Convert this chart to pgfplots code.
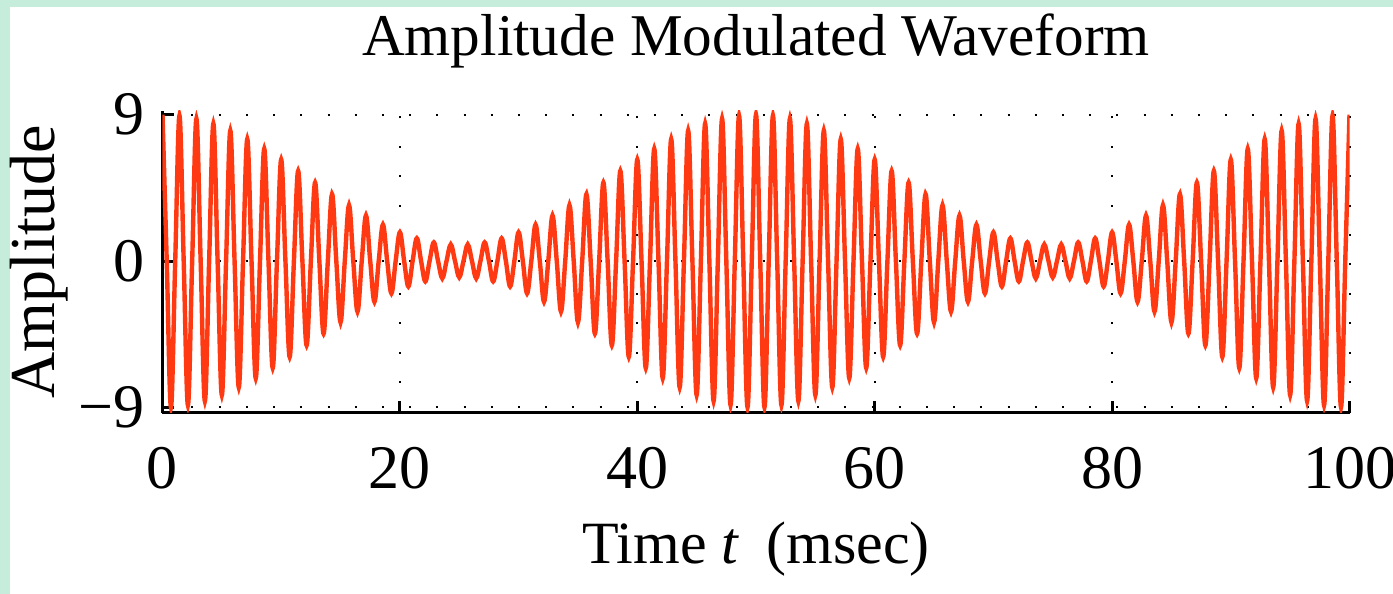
\documentclass[border=0pt]{standalone}
\usepackage{fontspec}
\setmainfont{Liberation Serif}
\usepackage{pgfplots}
\pgfplotsset{compat=1.18}
\definecolor{wavered}{RGB}{255,58,18}
\definecolor{framegreen}{RGB}{198,236,219}
\begin{document}
\begin{tikzpicture}
\useasboundingbox (0,0) rectangle (696.5pt,297pt);
\fill[framegreen] (0,0) rectangle (696.5pt,297pt);
\fill[white] (5pt,0) rectangle (696.5pt,293.5pt);
\begin{axis}[
  at={(81.25pt,90.5pt)}, anchor=south west,
  scale only axis, width=593.5pt, height=151.25pt,
  xmin=0, xmax=100, ymin=-9.34, ymax=9.25,
  axis lines=left,
  axis line style={-, line width=1.5pt, black},
  xtick={0,20,40,60,80,100},
  ytick={-9,0,9}, yticklabels={−9,0,9},
  tick align=inside, major tick length=6pt,
  tick style={line width=1.5pt, black},
  minor tick num=0,
  grid=major,
  x grid style={line width=1pt, dash pattern=on 1pt off 13.7pt, dash phase=14.4pt, black},
  y grid style={line width=1pt, dash pattern=on 1pt off 12.6pt, dash phase=12.7pt, black},
  /pgf/number format/assume math mode=true,
  ticklabel style={font=\fontsize{31}{31}\selectfont, inner sep=0pt},
  xticklabel style={anchor=north, yshift=-17pt},
  yticklabel style={anchor=east, xshift=-9pt},
  every axis title shift=0pt,
  title={Amplitude Modulated Waveform},
  title style={at={(axis description cs:0.5,1.1802)}, anchor=base, inner sep=0pt, yshift=0pt, font=\fontsize{29.6}{29.6}\selectfont},
  xlabel={Time \textit{t}\hspace{0.45em}(msec)},
  xlabel style={at={(axis description cs:0.5,-0.4959)}, anchor=base, inner sep=0pt, font=\fontsize{30}{30}\selectfont},
  ylabel={Amplitude},
  ylabel style={at={(axis description cs:-0.0906,0.5)}, anchor=base, rotate=0, inner sep=0pt, font=\fontsize{32}{32}\selectfont},
]
\addplot[color=wavered, line width=2.2pt, smooth, tension=0.6] table {
x y
0 9
0.3571 0
0.7143 -8.984
1.0714 0
1.4286 8.936
1.7857 0
2.1429 -8.856
2.5 0
2.8571 8.745
3.2143 0
3.5714 -8.604
3.9286 0
4.2857 8.434
4.6429 0
5 -8.236
5.3571 0
5.7143 8.012
6.0714 0
6.4286 -7.764
6.7857 0
7.1429 7.494
7.5 0
7.8571 -7.204
8.2143 0
8.5714 6.895
8.9286 0
9.2857 -6.572
9.6429 0
10 6.236
10.3571 0
10.7143 -5.890
11.0714 0
11.4286 5.537
11.7857 0
12.1429 -5.179
12.5 0
12.8571 4.821
13.2143 0
13.5714 -4.463
13.9286 0
14.2857 4.110
14.6429 0
15 -3.764
15.3571 0
15.7143 3.428
16.0714 0
16.4286 -3.105
16.7857 0
17.1429 2.796
17.5 0
17.8571 -2.506
18.2143 0
18.5714 2.236
18.9286 0
19.2857 -1.988
19.6429 0
20 1.764
20.3571 0
20.7143 -1.566
21.0714 0
21.4286 1.396
21.7857 0
22.1429 -1.255
22.5 0
22.8571 1.144
23.2143 0
23.5714 -1.064
23.9286 0
24.2857 1.016
24.6429 0
25 -1.000
25.3571 0
25.7143 1.016
26.0714 0
26.4286 -1.064
26.7857 0
27.1429 1.144
27.5 0
27.8571 -1.255
28.2143 0
28.5714 1.396
28.9286 0
29.2857 -1.566
29.6429 0
30 1.764
30.3571 0
30.7143 -1.988
31.0714 0
31.4286 2.236
31.7857 0
32.1429 -2.506
32.5 0
32.8571 2.796
33.2143 0
33.5714 -3.105
33.9286 0
34.2857 3.428
34.6429 0
35 -3.764
35.3571 0
35.7143 4.110
36.0714 0
36.4286 -4.463
36.7857 0
37.1429 4.821
37.5 0
37.8571 -5.179
38.2143 0
38.5714 5.537
38.9286 0
39.2857 -5.890
39.6429 0
40 6.236
40.3571 0
40.7143 -6.572
41.0714 0
41.4286 6.895
41.7857 0
42.1429 -7.204
42.5 0
42.8571 7.494
43.2143 0
43.5714 -7.764
43.9286 0
44.2857 8.012
44.6429 0
45 -8.236
45.3571 0
45.7143 8.434
46.0714 0
46.4286 -8.604
46.7857 0
47.1429 8.745
47.5 0
47.8571 -8.856
48.2143 0
48.5714 8.936
48.9286 0
49.2857 -8.984
49.6429 0
50 9
50.3571 0
50.7143 -8.984
51.0714 0
51.4286 8.936
51.7857 0
52.1429 -8.856
52.5 0
52.8571 8.745
53.2143 0
53.5714 -8.604
53.9286 0
54.2857 8.434
54.6429 0
55 -8.236
55.3571 0
55.7143 8.012
56.0714 0
56.4286 -7.764
56.7857 0
57.1429 7.494
57.5 0
57.8571 -7.204
58.2143 0
58.5714 6.895
58.9286 0
59.2857 -6.572
59.6429 0
60 6.236
60.3571 0
60.7143 -5.890
61.0714 0
61.4286 5.537
61.7857 0
62.1429 -5.179
62.5 0
62.8571 4.821
63.2143 0
63.5714 -4.463
63.9286 0
64.2857 4.110
64.6429 0
65 -3.764
65.3571 0
65.7143 3.428
66.0714 0
66.4286 -3.105
66.7857 0
67.1429 2.796
67.5 0
67.8571 -2.506
68.2143 0
68.5714 2.236
68.9286 0
69.2857 -1.988
69.6429 0
70 1.764
70.3571 0
70.7143 -1.566
71.0714 0
71.4286 1.396
71.7857 0
72.1429 -1.255
72.5 0
72.8571 1.144
73.2143 0
73.5714 -1.064
73.9286 0
74.2857 1.016
74.6429 0
75 -1.000
75.3571 0
75.7143 1.016
76.0714 0
76.4286 -1.064
76.7857 0
77.1429 1.144
77.5 0
77.8571 -1.255
78.2143 0
78.5714 1.396
78.9286 0
79.2857 -1.566
79.6429 0
80 1.764
80.3571 0
80.7143 -1.988
81.0714 0
81.4286 2.236
81.7857 0
82.1429 -2.506
82.5 0
82.8571 2.796
83.2143 0
83.5714 -3.105
83.9286 0
84.2857 3.428
84.6429 0
85 -3.764
85.3571 0
85.7143 4.110
86.0714 0
86.4286 -4.463
86.7857 0
87.1429 4.821
87.5 0
87.8571 -5.179
88.2143 0
88.5714 5.537
88.9286 0
89.2857 -5.890
89.6429 0
90 6.236
90.3571 0
90.7143 -6.572
91.0714 0
91.4286 6.895
91.7857 0
92.1429 -7.204
92.5 0
92.8571 7.494
93.2143 0
93.5714 -7.764
93.9286 0
94.2857 8.012
94.6429 0
95 -8.236
95.3571 0
95.7143 8.434
96.0714 0
96.4286 -8.604
96.7857 0
97.1429 8.745
97.5 0
97.8571 -8.856
98.2143 0
98.5714 8.936
98.9286 0
99.2857 -8.984
99.6429 0
100 9
};
\end{axis}
\end{tikzpicture}
\end{document}
